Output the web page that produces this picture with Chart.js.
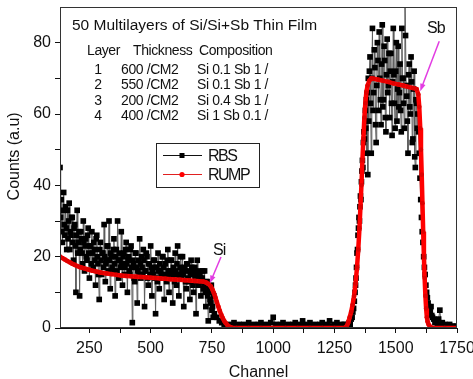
<!DOCTYPE html>
<html lang="en">
<head>
<meta charset="UTF-8">
<title>RBS / RUMP spectrum</title>
<style>
  body { margin: 0; background: #fff; }
</style>
</head>
<body>
<canvas id="rbsChart" width="473" height="379"></canvas>
<script src="https://cdn.jsdelivr.net/npm/chart.js@4.4.0/dist/chart.umd.min.js"></script>
<script>
const rbsChannel = [
  130,132.5,135,137.5,140,142.5,145,147.5,150,152.5,155,157.5,160,162.5,165,167.5,170,172.5,175,177.5,
  180,182.5,185,187.5,190,192.5,195,197.5,200,202.5,205,207.5,210,212.5,215,217.5,220,222.5,225,227.5,
  230,232.5,235,237.5,240,242.5,245,247.5,250,252.5,255,257.5,260,262.5,265,267.5,270,272.5,275,277.5,
  280,282.5,285,287.5,290,292.5,295,297.5,300,302.5,305,307.5,310,312.5,315,317.5,320,322.5,325,327.5,
  330,332.5,335,337.5,340,342.5,345,347.5,350,352.5,355,357.5,360,362.5,365,367.5,370,372.5,375,377.5,
  380,382.5,385,387.5,390,392.5,395,397.5,400,402.5,405,407.5,410,412.5,415,417.5,420,422.5,425,427.5,
  430,432.5,435,437.5,440,442.5,445,447.5,450,452.5,455,457.5,460,462.5,465,467.5,470,472.5,475,477.5,
  480,482.5,485,487.5,490,492.5,495,497.5,500,502.5,505,507.5,510,512.5,515,517.5,520,522.5,525,527.5,
  530,532.5,535,537.5,540,542.5,545,547.5,550,552.5,555,557.5,560,562.5,565,567.5,570,572.5,575,577.5,
  580,582.5,585,587.5,590,592.5,595,597.5,600,602.5,605,607.5,610,612.5,615,617.5,620,622.5,625,627.5,
  630,632.5,635,637.5,640,642.5,645,647.5,650,652.5,655,657.5,660,662.5,665,667.5,670,672.5,675,677.5,
  680,682.5,685,687.5,690,692.5,695,697.5,700,702.5,705,707.5,710,712.5,715,717.5,720,722.5,725,727.5,
  730,732.5,735,737.5,740,742.5,745,747.5,750,752.5,755,757.5,760,
  770,780,790,800,810,820,830,840,850,860,870,880,890,900,910,920,930,940,950,960,
  970,980,990,1000,1010,1020,1030,1040,1050,1060,1070,1080,1090,1100,1110,1120,1130,1140,1150,1160,
  1170,1180,1190,1200,1210,1220,1230,1240,1250,1260,1270,1280,1290,
  1300,1305,1310,1314,1318,1322,1325,1328,1331,1334,1336,1338,1340,1342,1344,1346,1348,1350,1352,1354,
  1356,1358,1360,1362,1364,1366,1368,1370,1372,1374,1376,1378,1380,1382,1384,1386,1388,
  1390,1392.5,1395,1397.5,1400,1402.5,1405,1407.5,1410,1412.5,1415,1417.5,1420,1422.5,1425,1427.5,1430,1432.5,1435,1437.5,
  1440,1442.5,1445,1447.5,1450,1452.5,1455,1457.5,1460,1462.5,1465,1467.5,1470,1472.5,1475,1477.5,1480,1482.5,1485,1487.5,
  1490,1492.5,1495,1497.5,1500,1502.5,1505,1507.5,1510,1512.5,1515,1517.5,1520,1522.5,1525,1527.5,1530,1532.5,1535,1537.5,
  1540,1542.5,1545,1547.5,1550,1552.5,1555,1557.5,1560,1562.5,1565,1567.5,1570,1572.5,1575,1577.5,1580,1582.5,1585,1587.5,
  1590,1593,1596,1599,1602,1605,1608,1611,1614,1617,1620,1623,1626,1629,1632,1635,1638,1641,1644,1647,
  1650,1655,1660,1665,1670,1675,1680,1685,1690,1695,1700,1710,1720,1730,1740,1750
];
const rbsCounts = [
  45,31,36,27,24,33,38,29,26,34, 28,22,33,25,30,35,22,27,26,31,
  31,24,19,28,29,23,10,26,33,21, 24,27,9,22,27,25,21,18,30,24,
  16,23,25,20,19,26,28,21,14,23, 23,18,27,21,17,24,22,19,12,25,
  26,20,18,15,8,22,24,19,15,21, 21,17,29,20,13,18,19,23,23,16,
  30,19,11,21,20,17,16,22,25,18, 9,20,22,16,30,19,14,21,19,17,
  27,18,12,20,21,15,17,22,24,18, 10,19,20,16,15,22,23,17,1.5,19,
  18,14,13,21,21,17,7,16,19,15, 25,18,14,20,17,15,22,19,6,16,
  16,21,20,14,12,18,18,15,23,17, 9,16,15,19,19,14,4,17,17,13,
  21,16,11,18,16,15,14,20,20,17, 8,15,18,14,13,19,22,16,10,15,
  16,19,19,14,7,17,15,13,21,16, 12,18,23,15,9,14,17,20,14,16,
  20,15,6,17,16,13,11,18,18,14, 13,16,8,15,19,17,15,12,10,16,
  17,14,4,15,19,13,12,16,15,14, 9,13,14,16,11,12,16,10,6,13,
  13,9,2,11,10,8,7,12,5,6, 3,9,4,
  3,2,1.5,1,0.5,1,0.5,1.5,0.5,1,0,1,0.5,1.5,0.5,1,0,1,1.5,0.5,
  1,0.5,1.5,3,1,0.5,1,1.5,0.5,1,0,1,1.5,0.5,1,2,1,0.5,1.5,0.5,
  1,0,1,1.5,0.5,1,2,0.5,1,1.5,0.5,1,1,
  0.5,1,1.5,1,2.5,3,4.5,5.5,7.5,10,12,14,17,21,22,26,28,31,30,34,
  37,36,41,44,47,45,52,55,53,58,61,56,64,49,66,43,70,
  58,72,76,63,49,70,84,61,66,78, 73,57,52,68,80,75,61,83,70,64,
  57,74,85,62,64,79,75,59,55,71, 81,66,68,77,59,72,77,63,54,69,
  84,71,63,56,72,80,58,67,79,62, 66,74,61,55,84,70,70,63,56,95,
  82,68,65,58,49,71,74,62,60,76, 69,52,53,67,72,48,45,64,63,56,
  60,55,49,42,36,31,27,24,20,17,15,12,10,8.5,7,6,5,4.5,6,3.5,
  3,2.5,1.5,2,1,2.5,5,1,1.5,0.5,1,0.5,1,0.5,0.5,0.5
];

// simulated spectrum
const rumpChannel = [
  130,140,150,160,170,180,190,200,210,220,230,240,250,260,270,280,290,300,320,340,
  360,380,400,420,440,460,480,500,520,540,560,580,600,620,640,660,680,700,715,725,
  735,745,752,758,764,770,776,782,788,794,800,806,812,818,824,830,850,900,950,1000,
  1050,1100,1150,1200,1250,1290,1300,1306,1312,1318,1324,1330,1336,1342,1347,1352,1356,1360,1364,1368,
  1372,1376,1380,1385,1392,1400,1410,1430,1450,1470,1490,1510,1530,1550,1570,1585,1592,1596,1600,1603,
  1606,1609,1612,1615,1618,1621,1624,1627,1630,1634,1640,1650,1700,1750
];
const rumpCounts = [
  20,19.6,19.2,18.8,18.4,18,17.7,17.4,17.1,16.9,16.7,16.5,16.3,16.1,15.95,15.8,15.65,15.5,15.3,15.1,
  14.9,14.7,14.6,14.5,14.4,14.3,14.2,14.1,14,13.9,13.8,13.7,13.6,13.5,13.4,13.3,13.2,13.1,13,12.8,
  12.4,11.7,10.8,9.8,8.6,7.3,6,4.8,3.7,2.8,2,1.4,0.9,0.5,0.3,0.1,0,0,0,0,
  0,0,0,0,0,0,0.5,1.5,3,4.5,6.5,9,12.5,17,22,28,34,40,47,53,
  59,63,66,68,69.3,70,69.9,69.6,69.3,69,68.6,68.3,68,67.6,67.3,67,65.5,62,56,50,
  43,35,27,20,14,9,5.5,3,1.8,1,0.4,0,0,0
];

const xTickValues = [250, 375, 500, 625, 750, 875, 1000, 1125, 1250, 1375, 1500, 1625, 1750];
const xLabels = [250, 500, 750, 1000, 1250, 1500, 1750];
const yTickValues = [0, 10, 20, 30, 40, 50, 60, 70, 80];
const yLabels = [0, 20, 40, 60, 80];

const titleText = '50 Multilayers of Si/Si+Sb Thin Film';
const tableHead = ['Layer', 'Thickness', 'Composition'];
const layerNo = ['1', '2', '3', '4'];
const thickness = ['600 /CM2', '550 /CM2', '200 /CM2', '400 /CM2'];
const composition = ['Si 0.1 Sb 1 /', 'Si 0.1 Sb 1 /', 'Si 0.4 Sb 1 /', 'Si 1 Sb 0.1 /'];

const FONT = '"Liberation Sans", Arial, sans-serif';
const INK = '#111';
const PINK = '#e23ce2';

function toPoints(xs, ys) {
  return xs.map((c, i) => ({ x: c, y: ys[i] }));
}

function arrow(ctx, x1, y1, x2, y2) {
  const ang = Math.atan2(y2 - y1, x2 - x1);
  ctx.beginPath();
  ctx.moveTo(x1, y1);
  ctx.lineTo(x2 - 5 * Math.cos(ang), y2 - 5 * Math.sin(ang));
  ctx.stroke();
  ctx.beginPath();
  ctx.moveTo(x2, y2);
  ctx.lineTo(x2 - 8 * Math.cos(ang - 0.35), y2 - 8 * Math.sin(ang - 0.35));
  ctx.lineTo(x2 - 8 * Math.cos(ang + 0.35), y2 - 8 * Math.sin(ang + 0.35));
  ctx.closePath();
  ctx.fill();
}

const overlay = {
  id: 'overlay',
  afterDraw(chart) {
    const { ctx, chartArea: a, scales: { x, y } } = chart;
    ctx.save();

    // frame around plot
    ctx.strokeStyle = '#333';
    ctx.lineWidth = 1;
    ctx.strokeRect(Math.round(a.left) + 0.5, Math.round(a.top) + 0.5,
      Math.round(a.right - a.left) - 1, Math.round(a.bottom - a.top) - 1);

    ctx.fillStyle = INK;
    ctx.textBaseline = 'alphabetic';

    // title and layer table
    ctx.font = '15.5px ' + FONT;
    ctx.letterSpacing = '0px';
    ctx.textAlign = 'left';
    ctx.fillText(titleText, 72, 29.5);

    ctx.font = '14px ' + FONT;
    ctx.letterSpacing = '-0.4px';
    ctx.fillText(tableHead[0], 87, 55);
    ctx.fillText(tableHead[1], 133, 55);
    ctx.fillText(tableHead[2], 199, 55);
    const rowY = [74, 89.3, 104.6, 120];
    layerNo.forEach((n, i) => {
      ctx.textAlign = 'center';
      ctx.fillText(n, 98, rowY[i]);
      ctx.textAlign = 'left';
      ctx.fillText(thickness[i], 121, rowY[i]);
      ctx.fillText(composition[i], 197, rowY[i]);
    });

    // legend
    ctx.fillStyle = '#fff';
    ctx.fillRect(156, 143, 103, 44);
    ctx.strokeStyle = '#222';
    ctx.strokeRect(156.5, 143.5, 103, 44);
    ctx.lineWidth = 1;
    ctx.strokeStyle = '#111';
    ctx.beginPath(); ctx.moveTo(163, 155.5); ctx.lineTo(202, 155.5); ctx.stroke();
    ctx.fillStyle = '#000';
    ctx.fillRect(179.5, 153, 5, 5);
    ctx.strokeStyle = '#e02020';
    ctx.beginPath(); ctx.moveTo(163, 174.5); ctx.lineTo(202, 174.5); ctx.stroke();
    ctx.fillStyle = '#f00';
    ctx.beginPath(); ctx.arc(182, 174.5, 2.6, 0, Math.PI * 2); ctx.fill();
    ctx.fillStyle = INK;
    ctx.font = '16px ' + FONT;
    ctx.letterSpacing = '-1.5px';
    ctx.textAlign = 'left';
    ctx.fillText('RBS', 208, 161);
    ctx.fillText('RUMP', 208, 180);

    // peak labels
    ctx.letterSpacing = '-0.8px';
    ctx.fillText('Si', 213, 255);
    ctx.fillText('Sb', 427, 33);
    ctx.strokeStyle = PINK;
    ctx.fillStyle = PINK;
    ctx.lineWidth = 1.5;
    const siX = x.getPixelForValue(742), siY = y.getPixelForValue(12.6);
    arrow(ctx, siX + 11, siY - 26, siX, siY);
    const sbX = x.getPixelForValue(1600), sbY = y.getPixelForValue(66.4);
    arrow(ctx, sbX + 19, sbY - 50, sbX, sbY);

    ctx.restore();
  }
};

new Chart('rbsChart', {
  type: 'line',
  data: {
    datasets: [
      {
        label: 'RUMP',
        data: toPoints(rumpChannel, rumpCounts),
        borderColor: '#ff0000',
        borderWidth: 4.5,
        pointRadius: 2.3,
        pointBackgroundColor: '#e00000',
        pointBorderWidth: 0,
        tension: 0,
        order: 0
      },
      {
        label: 'RBS',
        data: toPoints(rbsChannel, rbsCounts),
        borderColor: '#5c5c5c',
        borderWidth: 1,
        pointStyle: 'rect',
        pointRadius: 4,
        pointBackgroundColor: '#000',
        pointBorderColor: '#000',
        pointBorderWidth: 0,
        tension: 0,
        order: 1
      }
    ]
  },
  options: {
    responsive: false,
    animation: false,
    layout: { padding: { top: 7, right: 16, left: 0, bottom: 0 } },
    plugins: { legend: { display: false }, tooltip: { enabled: false } },
    scales: {
      x: {
        type: 'linear',
        min: 130,
        max: 1750,
        afterBuildTicks: s => { s.ticks = xTickValues.map(v => ({ value: v })); },
        afterFit: s => { s.height = 51; s.paddingLeft = 0; s.paddingRight = 0; },
        ticks: {
          autoSkip: false,
          maxRotation: 0,
          padding: 6,
          color: INK,
          font: { family: FONT, size: 16 },
          callback: v => xLabels.includes(v) ? String(v) : ''
        },
        grid: { drawOnChartArea: false, tickLength: 5, color: INK },
        border: { color: INK },
        title: {
          display: true,
          text: 'Channel',
          color: INK,
          padding: 0,
          font: { family: FONT, size: 16, lineHeight: 0.75 }
        }
      },
      y: {
        min: 0,
        max: 90,
        afterBuildTicks: s => { s.ticks = yTickValues.map(v => ({ value: v })); },
        afterFit: s => { s.width = 60; s.paddingTop = 0; s.paddingBottom = 0; },
        ticks: {
          autoSkip: false,
          padding: 4,
          color: INK,
          font: { family: FONT, size: 16 },
          callback: v => yLabels.includes(v) ? String(v) : ''
        },
        grid: { drawOnChartArea: false, tickLength: 5, color: INK },
        border: { color: INK },
        title: {
          display: true,
          text: '     Counts (a.u)',
          color: INK,
          padding: { top: 9, bottom: 0 },
          font: { family: FONT, size: 16, lineHeight: 0.75 }
        }
      }
    }
  },
  plugins: [overlay]
});
</script>
</body>
</html>
